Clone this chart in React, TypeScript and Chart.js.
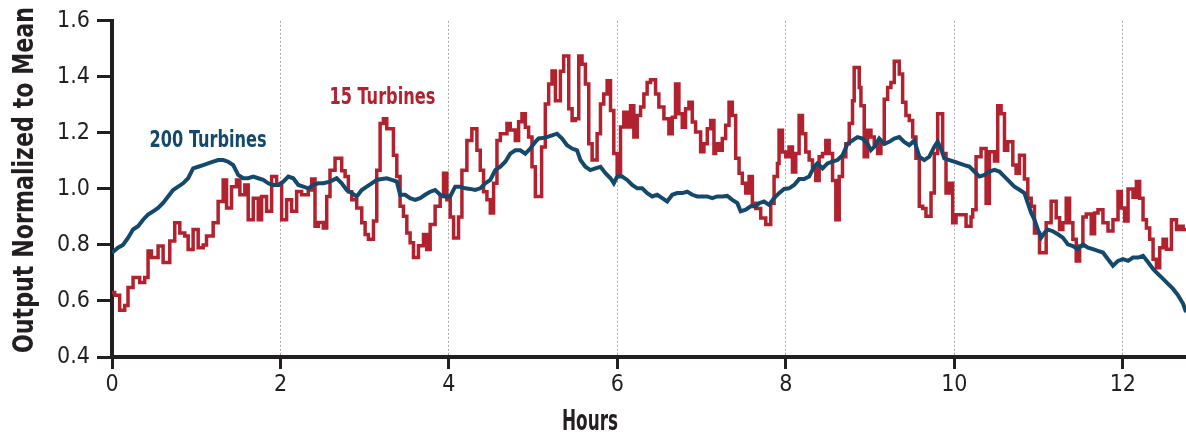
import React, { useEffect, useRef } from 'react';
import { Chart, registerables } from 'chart.js';

Chart.register(...registerables);

// ---- Data ----
const xTickValues = [0, 2, 4, 6, 8, 10, 12];
const yTickValues = [0.4, 0.6, 0.8, 1.0, 1.2, 1.4, 1.6];

// 15 turbines: step changes (hour at which the value starts, value)
const redHours = [
  0, 0.032, 0.091, 0.151, 0.19, 0.25, 0.329, 0.388, 0.428, 0.468, 0.547, 0.607, 0.686, 0.745, 0.805, 0.864, 0.904, 0.963,
  1.023, 1.082, 1.122, 1.201, 1.26, 1.32, 1.36, 1.419, 1.478, 1.518, 1.577, 1.617, 1.677, 1.736, 1.776, 1.835, 1.895, 1.954,
  2.014, 2.073, 2.132, 2.192, 2.251, 2.33, 2.37, 2.41, 2.45, 2.509, 2.549, 2.588, 2.648, 2.727, 2.767, 2.806, 2.846, 2.905, 2.965,
  3.005, 3.044, 3.104, 3.143, 3.183, 3.222, 3.262, 3.341, 3.381, 3.42, 3.46, 3.5, 3.539, 3.579, 3.638, 3.698, 3.737, 3.777, 3.836, 3.896, 3.936, 3.975,
  4.015, 4.055, 4.114, 4.154, 4.213, 4.272, 4.332, 4.372, 4.411, 4.451, 4.491, 4.53, 4.57, 4.61, 4.689, 4.728, 4.788, 4.827, 4.867, 4.907, 4.946, 4.986,
  5.026, 5.1, 5.144, 5.184, 5.224, 5.264, 5.323, 5.362, 5.422, 5.462, 5.501, 5.541, 5.58, 5.62, 5.66, 5.7, 5.759, 5.799, 5.838, 5.878, 5.918, 5.957, 5.997,
  6.037, 6.076, 6.116, 6.156, 6.195, 6.235, 6.275, 6.314, 6.353, 6.393, 6.453, 6.492, 6.552, 6.611, 6.651, 6.69, 6.73, 6.77, 6.809, 6.849, 6.889, 6.928, 6.988,
  7.027, 7.067, 7.107, 7.146, 7.166, 7.206, 7.245, 7.285, 7.325, 7.364, 7.404, 7.444, 7.483, 7.523, 7.563, 7.602, 7.642, 7.701, 7.761, 7.82, 7.86, 7.9, 7.919, 7.959, 7.999,
  8.038, 8.078, 8.117, 8.157, 8.197, 8.236, 8.276, 8.316, 8.355, 8.395, 8.435, 8.474, 8.514, 8.554, 8.593, 8.633, 8.672, 8.712, 8.752, 8.791, 8.811, 8.871, 8.891, 8.93, 8.97,
  9.01, 9.049, 9.089, 9.128, 9.168, 9.208, 9.247, 9.287, 9.346, 9.386, 9.425, 9.465, 9.505, 9.544, 9.584, 9.624, 9.663, 9.723, 9.762, 9.802, 9.861, 9.901, 9.941, 9.98,
  10.02, 10.079, 10.139, 10.198, 10.218, 10.258, 10.317, 10.377, 10.416, 10.476, 10.515, 10.555, 10.595, 10.634, 10.694, 10.733, 10.773, 10.832, 10.872, 10.912, 10.951,
  11.011, 11.09, 11.149, 11.209, 11.249, 11.288, 11.328, 11.368, 11.407, 11.447, 11.487, 11.526, 11.566, 11.625, 11.665, 11.705, 11.764, 11.824, 11.883, 11.943, 11.982,
  12.022, 12.062, 12.121, 12.161, 12.2, 12.24, 12.28, 12.319, 12.359, 12.399, 12.438, 12.478, 12.518, 12.577, 12.637, 12.676, 12.716, 12.75,
];
const redValues = [
  0.63, 0.62, 0.567, 0.584, 0.648, 0.684, 0.666, 0.684, 0.778, 0.755, 0.796, 0.737, 0.814, 0.879, 0.843, 0.832, 0.784, 0.855,
  0.79, 0.80, 0.832, 0.879, 0.955, 1.032, 0.932, 1.008, 1.032, 0.979, 1.014, 0.89, 0.967, 0.89, 0.973, 0.92, 1.044, 1.014,
  0.89, 0.961, 0.92, 0.991, 0.979, 0.996, 1.035, 0.867, 0.88, 0.86, 0.973, 1.067, 1.109, 1.065, 1.044, 0.99, 0.961, 0.932, 0.879,
  0.837, 0.82, 0.885, 1.067, 1.233, 1.25, 1.215, 1.12, 1.044, 0.938, 0.902, 0.843, 0.808, 0.755, 0.797, 0.837, 0.784, 0.873, 0.938, 0.973, 1.056, 0.961,
  0.90, 0.825, 0.90, 1.067, 1.173, 1.215, 1.138, 1.067, 0.99, 0.961, 0.914, 1.02, 1.173, 1.197, 1.233, 1.21, 1.173, 1.24, 1.268, 1.22, 1.185, 1.079,
  0.973, 1.15, 1.303, 1.374, 1.421, 1.315, 1.42, 1.474, 1.286, 1.244, 1.25, 1.474, 1.445, 1.374, 1.161, 1.103, 1.197, 1.303, 1.339, 1.386, 1.28, 1.126, 1.056,
  1.221, 1.274, 1.221, 1.297, 1.185, 1.262, 1.292, 1.339, 1.38, 1.39, 1.339, 1.292, 1.25, 1.197, 1.256, 1.374, 1.268, 1.22, 1.286, 1.309, 1.239, 1.203, 1.133,
  1.161, 1.215, 1.244, 1.126, 1.161, 1.138, 1.18, 1.227, 1.309, 1.262, 1.109, 1.056, 1.02, 0.985, 1.044, 0.949, 0.93, 0.896, 0.873, 0.949, 1.044, 1.091, 1.209, 1.132, 1.115,
  1.15, 1.06, 1.126, 1.262, 1.197, 1.132, 1.103, 1.079, 1.03, 1.115, 1.126, 1.173, 1.126, 1.03, 0.89, 1.044, 1.115, 1.161, 1.233, 1.315, 1.433, 1.362, 1.297, 1.115, 1.209,
  1.185, 1.161, 1.126, 1.161, 1.32, 1.362, 1.38, 1.456, 1.41, 1.309, 1.262, 1.244, 1.185, 1.109, 0.938, 0.93, 0.902, 0.985, 1.126, 1.268, 1.126, 0.985, 1.02, 0.879,
  0.908, 0.908, 0.867, 0.9, 0.926, 1.115, 1.144, 0.949, 1.133, 1.10, 1.297, 1.268, 1.138, 1.168, 1.085, 1.056, 1.12, 1.035, 0.967, 0.938, 0.843,
  0.772, 0.879, 0.956, 0.897, 0.855, 0.879, 0.967, 0.879, 0.82, 0.743, 0.796, 0.90, 0.91, 0.84, 0.914, 0.926, 0.879, 0.85, 0.89, 0.991, 0.932,
  0.885, 1.0, 0.97, 1.026, 0.967, 0.89, 0.86, 0.82, 0.749, 0.719, 0.79, 0.82, 0.785, 0.89, 0.855, 0.867, 0.855, 0.855,
];

// 200 turbines
const blueHours = [
  0, 0.071, 0.13, 0.19, 0.25, 0.309, 0.369, 0.428, 0.488, 0.547, 0.607, 0.666, 0.725, 0.785, 0.844, 0.904, 0.963,
  1.023, 1.082, 1.141, 1.201, 1.26, 1.32, 1.379, 1.439, 1.498, 1.558, 1.617, 1.677, 1.736, 1.795, 1.855, 1.914, 1.974,
  2.033, 2.093, 2.152, 2.212, 2.271, 2.33, 2.39, 2.449, 2.509, 2.588, 2.667, 2.727, 2.786, 2.846, 2.905, 2.965,
  3.024, 3.083, 3.143, 3.202, 3.262, 3.321, 3.381, 3.42, 3.48, 3.539, 3.598, 3.658, 3.717, 3.777, 3.836, 3.896, 3.955,
  4.015, 4.074, 4.134, 4.193, 4.252, 4.312, 4.372, 4.431, 4.491, 4.55, 4.61, 4.669, 4.728, 4.788, 4.847, 4.907, 4.966,
  5.026, 5.065, 5.144, 5.224, 5.283, 5.343, 5.402, 5.462, 5.521, 5.561, 5.62, 5.679, 5.739, 5.799, 5.858, 5.918, 5.957, 5.997,
  6.056, 6.116, 6.175, 6.235, 6.294, 6.354, 6.413, 6.473, 6.532, 6.591, 6.651, 6.71, 6.77, 6.829, 6.889, 6.948,
  7.007, 7.067, 7.126, 7.186, 7.245, 7.305, 7.364, 7.424, 7.463, 7.523, 7.582, 7.642, 7.681, 7.741, 7.8, 7.86, 7.919, 7.979,
  8.038, 8.098, 8.157, 8.216, 8.276, 8.335, 8.375, 8.435, 8.494, 8.553, 8.613, 8.672, 8.732, 8.791, 8.85, 8.91, 8.97,
  9.009, 9.049, 9.108, 9.168, 9.227, 9.287, 9.346, 9.405, 9.465, 9.524, 9.584, 9.643, 9.703, 9.762, 9.802, 9.841, 9.881, 9.941,
  10.0, 10.059, 10.119, 10.178, 10.238, 10.297, 10.357, 10.416, 10.476, 10.535, 10.595, 10.654, 10.713, 10.773, 10.832, 10.872, 10.912, 10.951, 10.991,
  11.031, 11.07, 11.11, 11.169, 11.229, 11.288, 11.348, 11.407, 11.467, 11.526, 11.586, 11.645, 11.705, 11.764, 11.824, 11.883, 11.943,
  12.002, 12.062, 12.121, 12.181, 12.24, 12.3, 12.359, 12.418, 12.478, 12.537, 12.597, 12.656, 12.716, 12.75,
];
const blueValues = [
  0.772, 0.79, 0.80, 0.825, 0.855, 0.867, 0.89, 0.908, 0.92, 0.932, 0.95, 0.973, 0.996, 1.008, 1.02, 1.038, 1.073,
  1.079, 1.085, 1.091, 1.097, 1.103, 1.103, 1.097, 1.085, 1.05, 1.038, 1.038, 1.044, 1.038, 1.032, 1.02, 1.014, 1.014,
  1.026, 1.044, 1.038, 1.014, 1.008, 1.002, 1.014, 1.02, 1.02, 1.026, 1.038, 1.02, 0.996, 0.985, 0.973, 0.996,
  1.008, 1.02, 1.032, 1.035, 1.038, 1.032, 1.026, 0.979, 0.979, 0.967, 0.961, 0.967, 0.979, 0.99, 0.996, 0.979, 0.973,
  0.973, 1.008, 1.008, 1.002, 1.0, 0.996, 1.002, 1.02, 1.032, 1.067, 1.079, 1.097, 1.126, 1.138, 1.138, 1.126, 1.144,
  1.168, 1.18, 1.183, 1.191, 1.197, 1.18, 1.156, 1.144, 1.138, 1.103, 1.079, 1.067, 1.073, 1.079, 1.056, 1.038, 1.02, 1.044,
  1.044, 1.032, 1.014, 1.002, 1.002, 0.985, 0.973, 0.979, 0.967, 0.955, 0.979, 0.985, 0.985, 0.99, 0.979, 0.973,
  0.973, 0.973, 0.967, 0.973, 0.973, 0.975, 0.961, 0.949, 0.92, 0.926, 0.938, 0.938, 0.949, 0.955, 0.943, 0.967, 0.985, 1.0,
  1.002, 1.014, 1.035, 1.035, 1.044, 1.079, 1.091, 1.073, 1.091, 1.097, 1.103, 1.12, 1.161, 1.173, 1.185, 1.18, 1.161,
  1.138, 1.15, 1.18, 1.161, 1.168, 1.18, 1.185, 1.168, 1.156, 1.173, 1.115, 1.103, 1.115, 1.15, 1.168, 1.144, 1.109, 1.103,
  1.097, 1.091, 1.085, 1.08, 1.062, 1.044, 1.05, 1.062, 1.068, 1.062, 1.044, 1.026, 1.008, 0.997, 0.985, 0.949, 0.914, 0.89, 0.855,
  0.826, 0.843, 0.855, 0.849, 0.838, 0.826, 0.802, 0.796, 0.785, 0.802, 0.79, 0.785, 0.779, 0.773, 0.749, 0.726, 0.743,
  0.749, 0.743, 0.755, 0.755, 0.761, 0.738, 0.714, 0.696, 0.679, 0.661, 0.643, 0.62, 0.59, 0.56,
];

const RED = '#b1212e';
const BLUE = '#15496b';
const INK = '#231f20';
const FONT = '"Liberation Sans Narrow", "DejaVu Sans Condensed", "Roboto", sans-serif';

function drawFitted(ctx: CanvasRenderingContext2D, text: string, x: number, y: number, size: number, width: number, color: string, rotate = 0) {
  ctx.save();
  ctx.font = `bold ${size}px ${FONT}`;
  ctx.fillStyle = color;
  ctx.textAlign = 'center';
  ctx.textBaseline = 'alphabetic';
  const w = ctx.measureText(text).width;
  ctx.translate(x, y);
  if (rotate) ctx.rotate(rotate);
  ctx.scale(width / w, 1);
  ctx.fillText(text, 0, 0);
  ctx.restore();
}

const labelPlugin = {
  id: 'labels',
  afterDraw(chart: any) {
    const ctx = chart.ctx as CanvasRenderingContext2D;
    const xs = chart.scales.x;
    const ys = chart.scales.y;
    drawFitted(ctx, 'Output Normalized to Mean', 33, 180, 29, 346, INK, -Math.PI / 2);
    drawFitted(ctx, 'Hours', 590, 430, 29, 56, INK);
    drawFitted(ctx, '200 Turbines', xs.getPixelForValue(1.141), ys.getPixelForValue(1.151), 23, 117, BLUE);
    drawFitted(ctx, '15 Turbines', xs.getPixelForValue(3.21), ys.getPixelForValue(1.303), 23, 106, RED);
  },
};

export default function App() {
  const ref = useRef<HTMLCanvasElement>(null);
  useEffect(() => {
    const canvas = ref.current;
    if (!canvas) return;
    const chart = new Chart(canvas, {
      type: 'line',
      data: {
        datasets: [
          {
            label: '200 Turbines',
            data: blueHours.map((h, i) => ({ x: h, y: blueValues[i] })),
            borderColor: BLUE,
            borderWidth: 4,
            pointRadius: 0,
            tension: 0,
            order: 0,
          },
          {
            label: '15 Turbines',
            data: redHours.map((h, i) => ({ x: h, y: redValues[i] })),
            borderColor: RED,
            borderWidth: 3.5,
            pointRadius: 0,
            stepped: true,
            order: 1,
          },
        ],
      },
      options: {
        animation: false,
        responsive: false,
        maintainAspectRatio: false,
        layout: { padding: { left: 0, right: 0, top: 18, bottom: 0 } },
        plugins: { legend: { display: false }, tooltip: { enabled: false } },
        scales: {
          x: {
            type: 'linear',
            min: 0,
            max: 12.75,
            afterBuildTicks: (s: any) => { s.ticks = xTickValues.map((v) => ({ value: v })); },
            afterFit: (s: any) => { s.height = 79; },
            ticks: {
              autoSkip: false,
              maxRotation: 0,
              padding: 2,
              color: INK,
              font: { family: FONT, size: 23 },
              callback: (v: any) => String(v),
            },
            grid: {
              color: (c: any) => (c.tick && c.tick.value === 0 ? 'rgba(0,0,0,0)' : '#a8a8a8'),
              lineWidth: 1,
              tickColor: INK,
              tickWidth: 3,
              tickLength: 12,
              tickBorderDash: [],
            } as any,
            border: { display: true, color: INK, width: 4, dash: [2, 2] },
          },
          y: {
            min: 0.4,
            max: 1.6,
            afterBuildTicks: (s: any) => { s.ticks = yTickValues.map((v) => ({ value: v })); },
            afterFit: (s: any) => { s.width = 112; },
            ticks: {
              padding: 7,
              color: INK,
              font: { family: FONT, size: 23 },
              callback: (v: any) => Number(v).toFixed(1),
            },
            grid: {
              drawOnChartArea: false,
              tickColor: INK,
              tickWidth: 3,
              tickLength: 15,
            },
            border: { display: true, color: INK, width: 4 },
          },
        },
      },
      plugins: [labelPlugin],
    });
    return () => chart.destroy();
  }, []);
  return (
    <div style={{ position: 'fixed', left: 0, top: 0, width: 1186, height: 436, background: '#fff' }}>
      <canvas ref={ref} width={1186} height={436} style={{ width: 1186, height: 436, display: 'block' }} />
    </div>
  );
}
